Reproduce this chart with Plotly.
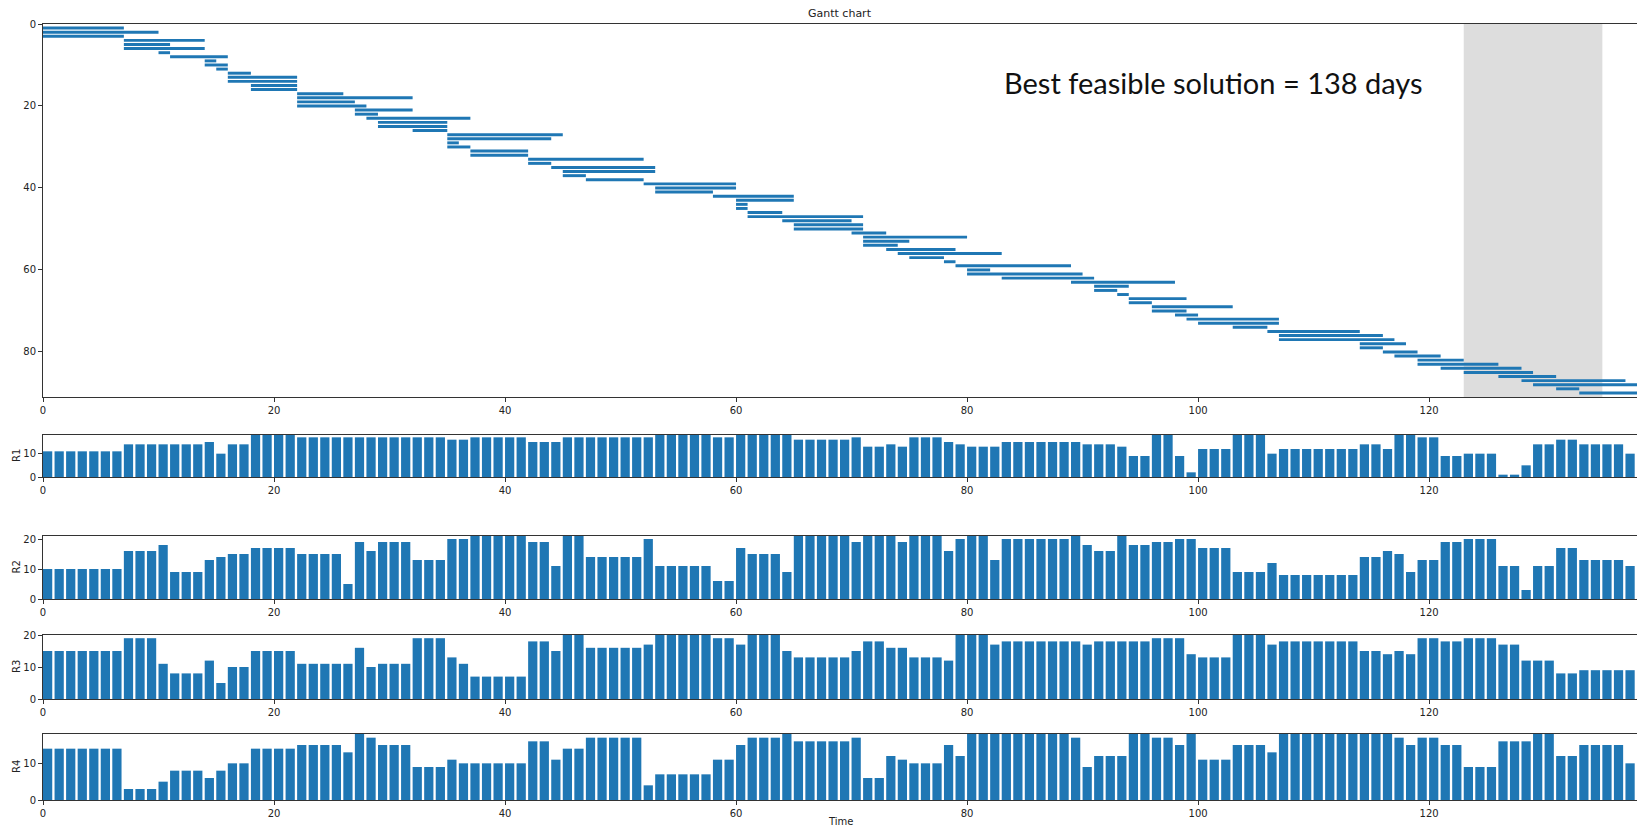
import plotly.graph_objects as go

# ---------------- data ----------------
task_ids = list(range(1, 91))
task_start = [0, 0, 0, 7, 7, 7, 10, 11, 14, 14,
              15, 16, 16, 16, 18, 18, 22, 22, 22, 22,
              27, 27, 28, 29, 29, 32, 35, 35, 35, 35,
              37, 37, 42, 42, 44, 45, 45, 47, 52, 53,
              53, 58, 60, 60, 60, 61, 61, 64, 65, 65,
              70, 71, 71, 71, 73, 74, 75, 78, 79, 80,
              80, 83, 89, 91, 91, 93, 94, 94, 96, 96,
              98, 99, 100, 103, 106, 107, 107, 114, 114, 116,
              117, 119, 119, 121, 123, 126, 128, 129, 131, 133]
task_end = [7, 10, 7, 14, 11, 14, 11, 16, 15, 16,
            16, 18, 22, 22, 22, 22, 26, 32, 27, 28,
            32, 29, 37, 35, 35, 35, 45, 44, 36, 37,
            42, 42, 52, 44, 53, 53, 47, 52, 60, 60,
            58, 65, 65, 61, 61, 64, 71, 70, 71, 71,
            73, 80, 75, 74, 79, 83, 78, 79, 89, 82,
            90, 91, 98, 94, 93, 94, 99, 96, 103, 99,
            100, 107, 107, 106, 114, 116, 117, 118, 116, 119,
            121, 123, 126, 128, 129, 131, 137, 138, 133, 138]

times = list(range(138))
R1 = [11, 11, 11, 11, 11, 11, 11, 14, 14, 14,
      14, 14, 14, 14, 15, 10, 14, 14, 18, 18,
      18, 18, 17, 17, 17, 17, 17, 17, 17, 17,
      17, 17, 17, 17, 17, 16, 16, 17, 17, 17,
      17, 17, 15, 15, 15, 17, 17, 17, 17, 17,
      17, 17, 17, 18, 18, 18, 18, 18, 17, 17,
      18, 18, 18, 18, 18, 16, 16, 16, 16, 16,
      17, 13, 13, 14, 13, 17, 17, 17, 15, 14,
      13, 13, 13, 15, 15, 15, 15, 15, 15, 15,
      14, 14, 14, 13, 9, 9, 18, 18, 9, 2,
      12, 12, 12, 18, 18, 18, 10, 12, 12, 12,
      12, 12, 12, 12, 14, 14, 12, 18, 18, 17,
      17, 9, 9, 10, 10, 10, 1, 1, 5, 14,
      14, 16, 16, 14, 14, 14, 14, 10]
R2 = [10, 10, 10, 10, 10, 10, 10, 16, 16, 16,
      18, 9, 9, 9, 13, 14, 15, 15, 17, 17,
      17, 17, 15, 15, 15, 15, 5, 19, 16, 19,
      19, 19, 13, 13, 13, 20, 20, 21, 21, 21,
      21, 21, 19, 19, 11, 21, 21, 14, 14, 14,
      14, 14, 20, 11, 11, 11, 11, 11, 6, 6,
      17, 15, 15, 15, 9, 21, 21, 21, 21, 21,
      19, 21, 21, 21, 19, 21, 21, 21, 16, 20,
      21, 21, 13, 20, 20, 20, 20, 20, 20, 21,
      18, 16, 16, 21, 18, 18, 19, 19, 20, 20,
      17, 17, 17, 9, 9, 9, 12, 8, 8, 8,
      8, 8, 8, 8, 14, 14, 16, 15, 9, 13,
      13, 19, 19, 20, 20, 20, 11, 11, 3, 11,
      11, 17, 17, 13, 13, 13, 13, 11]
R3 = [15, 15, 15, 15, 15, 15, 15, 19, 19, 19,
      11, 8, 8, 8, 12, 5, 10, 10, 15, 15,
      15, 15, 11, 11, 11, 11, 11, 16, 10, 11,
      11, 11, 19, 19, 19, 13, 11, 7, 7, 7,
      7, 7, 18, 18, 15, 20, 20, 16, 16, 16,
      16, 16, 17, 20, 20, 20, 20, 20, 19, 19,
      17, 20, 20, 20, 15, 13, 13, 13, 13, 13,
      15, 18, 18, 16, 16, 13, 13, 13, 12, 20,
      20, 20, 17, 18, 18, 18, 18, 18, 18, 18,
      17, 18, 18, 18, 18, 18, 19, 19, 19, 14,
      13, 13, 13, 20, 20, 20, 17, 18, 18, 18,
      18, 18, 18, 18, 15, 15, 14, 15, 14, 19,
      19, 18, 18, 19, 19, 19, 17, 17, 12, 12,
      12, 8, 8, 9, 9, 9, 9, 9]
R4 = [14, 14, 14, 14, 14, 14, 14, 3, 3, 3,
      5, 8, 8, 8, 6, 8, 10, 10, 14, 14,
      14, 14, 15, 15, 15, 15, 13, 18, 17, 15,
      15, 15, 9, 9, 9, 11, 10, 10, 10, 10,
      10, 10, 16, 16, 11, 14, 14, 17, 17, 17,
      17, 17, 4, 7, 7, 7, 7, 7, 11, 11,
      15, 17, 17, 17, 18, 16, 16, 16, 16, 16,
      17, 6, 6, 12, 11, 10, 10, 10, 15, 12,
      18, 18, 18, 18, 18, 18, 18, 18, 18, 17,
      9, 12, 12, 12, 18, 18, 17, 17, 15, 18,
      11, 11, 11, 15, 15, 15, 13, 18, 18, 18,
      18, 18, 18, 18, 18, 18, 18, 17, 15, 17,
      17, 15, 15, 9, 9, 9, 16, 16, 16, 18,
      18, 12, 12, 15, 15, 15, 15, 10]
resource_names = ["R1", "R2", "R3", "R4"]
resource_caps = [18, 21, 20, 18]
makespan = 138
shade_start, shade_end = 123, 135
x_ticks = [0, 20, 40, 60, 80, 100, 120]
gantt_y_ticks = [0, 20, 40, 60, 80]

# ---------------- layout geometry (page pixels) ----------------
PAGE_W, PAGE_H = 1645, 828
OFF = 8                      # default body margin of the html page
W, H = PAGE_W - OFF, PAGE_H - OFF
x_left, x_right = 43, 1637
panels_px = [(24, 397), (435, 477), (536, 599), (635, 699), (734, 800)]

def px(x):
    return (x - OFF) / W

def py(y):
    return 1 - (y - OFF) / H

def ydom(top, bottom):
    return [py(bottom), py(top)]

xdom = [px(x_left), px(x_right)]
BLUE = "#1f77b4"
AX = dict(showline=True, mirror=True, linecolor="#333333", linewidth=1,
          ticks="outside", ticklen=4, tickwidth=1, tickcolor="#333333",
          showgrid=False, zeroline=False, automargin=False,
          tickfont=dict(family="DejaVu Sans", size=10, color="#222222"))

fig = go.Figure()
fig.add_trace(go.Bar(
    orientation="h", y=task_ids,
    x=[e - s for s, e in zip(task_start, task_end)], base=task_start,
    width=0.72, marker=dict(color=BLUE, line=dict(width=0)),
    xaxis="x", yaxis="y", showlegend=False, hoverinfo="skip"))

series = [R1, R2, R3, R4]
for i, vals in enumerate(series):
    n = i + 2
    fig.add_trace(go.Bar(
        x=times, y=vals, width=0.8, offset=0,
        marker=dict(color=BLUE, line=dict(width=0)),
        xaxis=f"x{n}", yaxis=f"y{n}", showlegend=False, hoverinfo="skip"))

layout = dict(
    width=W, height=H, margin=dict(l=0, r=0, t=0, b=0, pad=0),
    paper_bgcolor="white", plot_bgcolor="white",
    xaxis=dict(domain=xdom, anchor="y", range=[0, makespan],
               tickvals=x_ticks, **AX),
    yaxis=dict(domain=ydom(*panels_px[0]), anchor="x", range=[91, 0],
               tickvals=gantt_y_ticks, **AX),
)
for i in range(4):
    n = i + 2
    layout[f"xaxis{n}"] = dict(domain=xdom, anchor=f"y{n}", range=[0, makespan],
                               tickvals=x_ticks, **AX)
    layout[f"yaxis{n}"] = dict(domain=ydom(*panels_px[i + 1]), anchor=f"x{n}",
                               range=[0, resource_caps[i]], dtick=10, **AX)
fig.update_layout(**layout)

fig.add_shape(type="rect", xref="x", yref="y domain", x0=shade_start, x1=shade_end,
              y0=0, y1=1, fillcolor="#dddddd", line=dict(width=0), layer="below")

annotations = [
    dict(text="Gantt chart", x=px((x_left + x_right) / 2), y=py(13),
         xref="paper", yref="paper", showarrow=False, xanchor="center", yanchor="middle",
         font=dict(family="DejaVu Sans", size=11, color="#222222")),
    dict(text=f"Best feasible solution = {makespan} days", x=px(1002), y=py(83),
         xref="paper", yref="paper", showarrow=False, xanchor="left", yanchor="middle",
         font=dict(family="Lato", size=29, color="#111111")),
    dict(text="Time", x=px((x_left + x_right) / 2), y=py(821),
         xref="paper", yref="paper", showarrow=False, xanchor="center", yanchor="middle",
         font=dict(family="DejaVu Sans", size=10, color="#222222")),
]
for i, name in enumerate(resource_names):
    top, bottom = panels_px[i + 1]
    annotations.append(dict(text=name, x=px(16), y=py((top + bottom) / 2),
                            xref="paper", yref="paper", showarrow=False, textangle=-90,
                            xanchor="center", yanchor="middle",
                            font=dict(family="DejaVu Sans", size=10, color="#222222")))
fig.update_layout(annotations=annotations)

fig.write_html("out.html")
